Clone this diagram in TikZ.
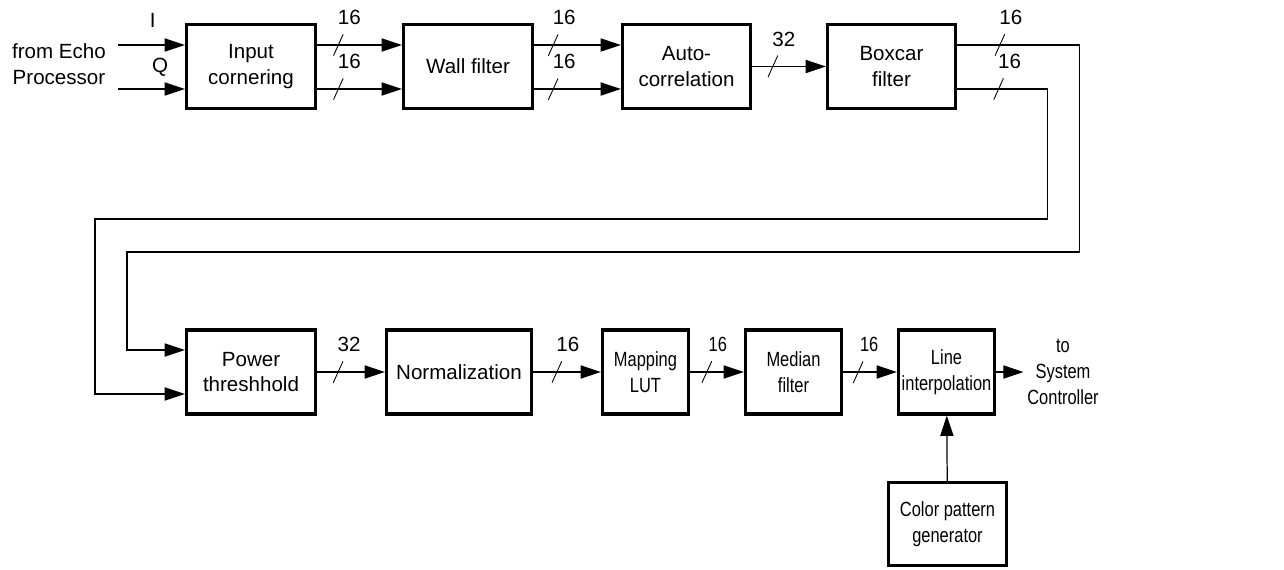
\documentclass[tikz,border=0pt]{standalone}
\usepackage{fontspec}
\setmainfont{Liberation Sans}
\newfontfamily\narrowsf[FakeStretch=0.8]{Liberation Sans}
\usepackage{tikz}
\usetikzlibrary{arrows.meta}
\def\diagsize{\fontsize{11.7}{14.7}\selectfont}

\tikzset{
  block/.style={draw, line width=1.9pt, align=center, inner sep=0pt, minimum height=1.68cm},
  narrow/.style={font=\diagsize\narrowsf},
  sig/.style={line width=0.7pt, -{Triangle[length=11.5pt,width=7.5pt]}},
  bus/.style={minimum width=0.2cm, minimum height=0.44cm, inner sep=0pt,
    path picture={\draw[-, line width=0.5pt] (path picture bounding box.south west) -- (path picture bounding box.north east);},
    label={[xshift=0.22cm, label distance=1pt]above:#1}}
}

\begin{document}
\begin{tikzpicture}[x=0.02cm, y=-0.02cm, font=\diagsize]
        \useasboundingbox (0,0) rectangle (1284,569);
        % upper row
        \node[block, minimum width=2.58cm] (inp) at (251,66.5) {Input\\cornering};
        \node[block, minimum width=2.58cm] (wall) at (468,66.5) {Wall filter};
        \node[block, minimum width=2.56cm] (auto) at (686.5,66.5) {Auto-\\correlation};
        \node[block, minimum width=2.56cm] (boxcar) at (891.5,66.5) {Boxcar\\filter};
        % lower row
        \node[block, minimum width=2.58cm] (pow) at (251,372) {Power\\threshhold};
        \node[block, minimum width=2.9cm] (norm) at (459,372) {Normalization};
        \node[block, narrow, minimum width=1.72cm] (map) at (645.5,372) {Mapping\\LUT};
        \node[block, narrow, minimum width=1.92cm] (med) at (793.5,372) {Median\\filter};
        \node[block, narrow, minimum width=1.92cm] (line) at (946.5,372) {Line\\interpolation};
        \node[block, narrow, minimum width=2.36cm, minimum height=1.66cm] (col) at (947.5,524) {Color pattern\\generator};
        \node[narrow, align=center, inner sep=2pt] (ctl) at (1063,372) {to\\System\\Controller};
        \node[align=center] (src) at (59,64) {from Echo\\Processor};
        \coordinate (iin) at (118,45);
        \coordinate (qin) at (118,89);

        \draw[sig] (iin) -- node[pos=.52, above=6pt] (ilbl) {I} (inp.west |- iin);
        \draw[sig] (qin) -- node[pos=.63, above=3.5pt] (qlbl) {Q} (inp.west |- qin);
        \draw[sig] ([yshift=0.43cm]inp.east) -- node[bus=16, pos=.25] {} ([yshift=0.43cm]wall.west);
        \draw[sig] ([yshift=-0.45cm]inp.east) -- node[bus=16, pos=.25] {} ([yshift=-0.45cm]wall.west);
        \draw[sig] ([yshift=0.43cm]wall.east) -- node[bus=16, pos=.22] {} ([yshift=0.43cm]auto.west);
        \draw[sig] ([yshift=-0.45cm]wall.east) -- node[bus=16, pos=.22] {} ([yshift=-0.45cm]auto.west);
        \draw[sig] (auto) -- node[bus=32, pos=.28] {} (boxcar);
        % feedback round to the power threshhold
        \draw[sig] ([yshift=0.43cm]boxcar.east) -- node[bus=16, pos=.35] {} ++(122,0) |- (127,252) |- ([yshift=0.44cm]pow.west);
        \draw[sig] ([yshift=-0.45cm]boxcar.east) -- node[bus=16, pos=.46] {} ++(90,0) |- (95,219) |- ([yshift=-0.44cm]pow.west);

        \draw[sig] (pow) -- node[bus=32, pos=.31] {} (norm);
        \draw[sig] (norm) -- node[bus=16, pos=.35] {} (map);
        \draw[sig] (map) -- node[bus={\narrowsf 16}, pos=.31] {} (med);
        \draw[sig] (med) -- node[bus={\narrowsf 16}, pos=.28] {} (line);
        \draw[sig] (line) -- (ctl);
        \draw[sig] (col) -- (line);
\end{tikzpicture}
\end{document}
